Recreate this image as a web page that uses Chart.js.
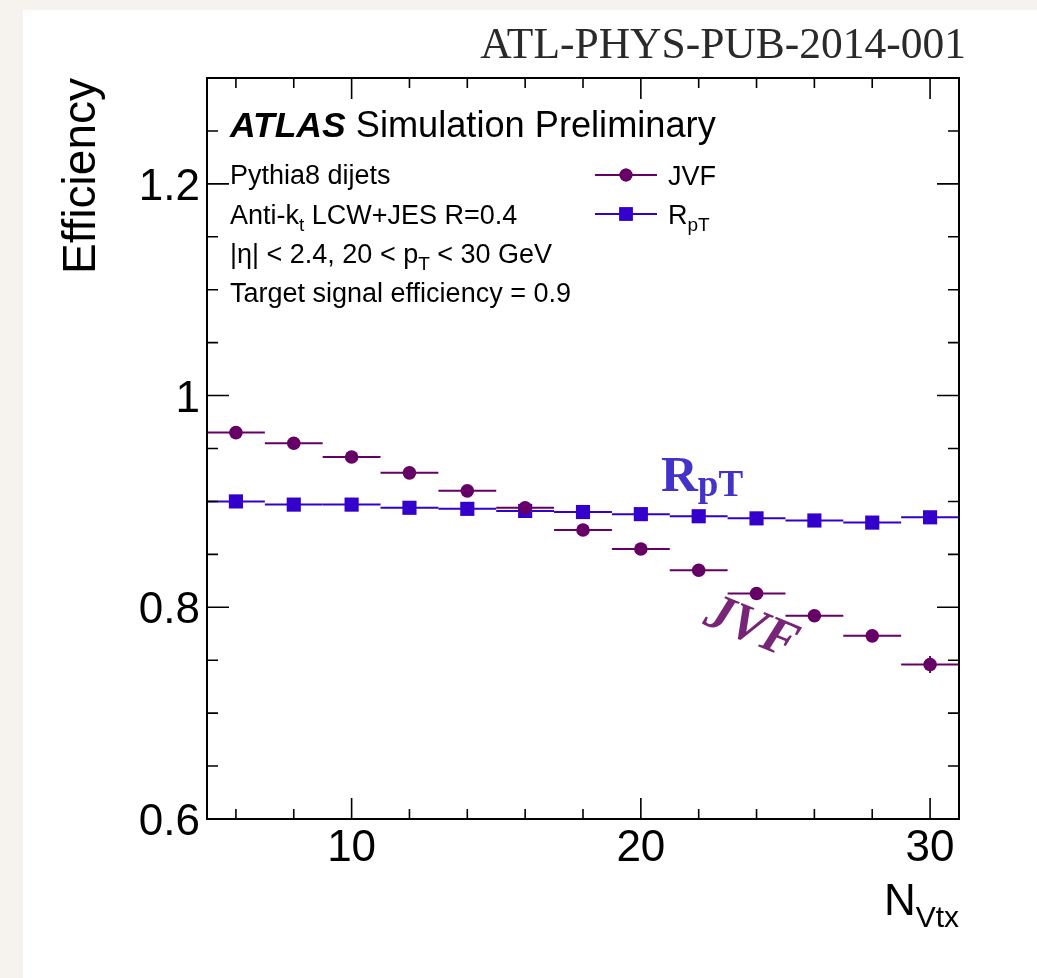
<!DOCTYPE html>
<html><head><meta charset="utf-8">
<script src="https://cdn.jsdelivr.net/npm/chart.js@4.4.1/dist/chart.umd.min.js"></script>
<style>
html,body{margin:0;padding:0;background:#f6f3ee;width:1037px;height:978px;overflow:hidden;}
#card{position:absolute;left:23px;top:10px;width:1014px;height:968px;background:#fff;}
#c{position:absolute;left:0;top:0;}
</style></head><body>
<div id="card"></div>
<canvas id="c" width="1037" height="978"></canvas>
<script>
// ---- data ----
const nVtx       = [6, 8, 10, 12, 14, 16, 18, 20, 22, 24, 26, 28, 30];
const binHalfW   = [1, 1, 1, 1, 1, 1, 1, 1, 1, 1, 1, 1, 1];
const jvfEff     = [0.965, 0.955, 0.942, 0.927, 0.910, 0.894, 0.873, 0.855, 0.835, 0.813, 0.792, 0.773, 0.746];
const jvfErr     = [0.002, 0.002, 0.002, 0.002, 0.002, 0.002, 0.002, 0.003, 0.003, 0.004, 0.004, 0.005, 0.008];
const rptEff     = [0.900, 0.897, 0.897, 0.894, 0.893, 0.891, 0.890, 0.888, 0.886, 0.884, 0.882, 0.880, 0.885];
const rptErr     = [0.001, 0.001, 0.001, 0.001, 0.001, 0.001, 0.001, 0.001, 0.001, 0.002, 0.002, 0.002, 0.003];
const xMajorTicks = [10, 20, 30];
const xMinorTicks = [6, 8, 12, 14, 16, 18, 22, 24, 26, 28];
const yMajorTicks = [0.6, 0.8, 1.0, 1.2];
const yMinorTicks = [0.65, 0.7, 0.75, 0.85, 0.9, 0.95, 1.05, 1.1, 1.15, 1.25];
const xRange = [5, 31];
const yRange = [0.6, 1.3];

const JVF_COL = '#660066';
const RPT_COL = '#3300cc';
const SANS = '"Liberation Sans", Arial, Helvetica, sans-serif';
const SERIF = '"Liberation Serif", "Times New Roman", serif';

function pts(xs, ys) { return xs.map((x, i) => ({x: x, y: ys[i]})); }

function drawRich(ctx, x, y, segs, align) {
  let total = 0;
  segs.forEach(s => { ctx.font = (s.style || '') + ' ' + s.size + 'px ' + (s.family || SANS); s.w = ctx.measureText(s.t).width; total += s.w; });
  let cx = align === 'right' ? x - total : x;
  ctx.textAlign = 'left';
  segs.forEach(s => {
    ctx.font = (s.style || '') + ' ' + s.size + 'px ' + (s.family || SANS);
    ctx.fillText(s.t, cx, y + (s.dy || 0));
    cx += s.w;
  });
}

const decor = {
  id: 'decor',
  beforeDatasetsDraw(chart) {
    const ctx = chart.ctx, xs = chart.scales.x, ys = chart.scales.y;
    const sets = [[jvfEff, jvfErr, JVF_COL], [rptEff, rptErr, RPT_COL]];
    ctx.save();
    ctx.lineWidth = 2;
    sets.forEach(([vals, errs, col]) => {
      ctx.strokeStyle = col;
      nVtx.forEach((x, i) => {
        const py = ys.getPixelForValue(vals[i]);
        const px = xs.getPixelForValue(x);
        ctx.beginPath();
        ctx.moveTo(xs.getPixelForValue(x - binHalfW[i]), py);
        ctx.lineTo(xs.getPixelForValue(x + binHalfW[i]), py);
        ctx.moveTo(px, ys.getPixelForValue(vals[i] - errs[i]));
        ctx.lineTo(px, ys.getPixelForValue(vals[i] + errs[i]));
        ctx.stroke();
      });
    });
    ctx.restore();
  },
  afterDraw(chart) {
    const ctx = chart.ctx, xs = chart.scales.x, ys = chart.scales.y, a = chart.chartArea;
    ctx.save();
    // frame
    ctx.strokeStyle = '#000';
    ctx.lineWidth = 2;
    ctx.strokeRect(a.left, a.top, a.right - a.left, a.bottom - a.top);
    // ticks
    ctx.lineWidth = 1.6;
    ctx.beginPath();
    const xt = (v, len) => {
      const p = xs.getPixelForValue(v);
      ctx.moveTo(p, a.bottom); ctx.lineTo(p, a.bottom - len);
      ctx.moveTo(p, a.top); ctx.lineTo(p, a.top + len);
    };
    const yt = (v, len) => {
      const p = ys.getPixelForValue(v);
      ctx.moveTo(a.left, p); ctx.lineTo(a.left + len, p);
      ctx.moveTo(a.right, p); ctx.lineTo(a.right - len, p);
    };
    xMajorTicks.forEach(v => xt(v, 21));
    xMinorTicks.forEach(v => xt(v, 10));
    yMajorTicks.forEach(v => yt(v, 22));
    yMinorTicks.forEach(v => yt(v, 11));
    ctx.stroke();

    ctx.fillStyle = '#000';
    ctx.textBaseline = 'alphabetic';
    // y title
    ctx.save();
    ctx.translate(95, a.top);
    ctx.rotate(-Math.PI / 2);
    ctx.font = '46px ' + SANS;
    ctx.textAlign = 'right';
    ctx.fillText('Efficiency', 0, 0);
    ctx.restore();
    // x title
    drawRich(ctx, a.right, 915, [{t: 'N', size: 44}, {t: 'Vtx', size: 30, dy: 12}], 'right');

    // ATLAS label
    drawRich(ctx, 230, 137, [{t: 'ATLAS', size: 35.5, style: 'italic bold'}, {t: ' Simulation Preliminary', size: 36.2}], 'left');
    // info text
    drawRich(ctx, 230, 184, [{t: 'Pythia8 dijets', size: 27}], 'left');
    drawRich(ctx, 230, 224, [{t: 'Anti-k', size: 27}, {t: 't', size: 19, dy: 7}, {t: ' LCW+JES R=0.4', size: 27}], 'left');
    drawRich(ctx, 230, 263, [{t: '|\u03B7| < 2.4, 20 < p', size: 27}, {t: 'T', size: 19, dy: 7}, {t: ' < 30 GeV', size: 27}], 'left');
    drawRich(ctx, 230, 302, [{t: 'Target signal efficiency = 0.9', size: 27}], 'left');

    // legend
    const legend = [[175, JVF_COL, 'circle', 6.5, [{t: 'JVF', size: 27}]],
                    [214, RPT_COL, 'rect', 9.5, [{t: 'R', size: 27}, {t: 'pT', size: 19, dy: 7}]]];
    legend.forEach(([y, col, style, r, label]) => {
      ctx.strokeStyle = col; ctx.fillStyle = col; ctx.lineWidth = 2;
      ctx.beginPath(); ctx.moveTo(595, y); ctx.lineTo(657, y); ctx.stroke();
      Chart.helpers.drawPoint(ctx, {pointStyle: style, radius: r, borderWidth: 0}, 626, y);
      ctx.fill();
      ctx.fillStyle = '#000';
      drawRich(ctx, 668, y + 10, label, 'left');
    });

    // curve annotations
    ctx.fillStyle = '#4433c9';
    drawRich(ctx, 661, 491, [{t: 'R', size: 51, style: 'bold', family: SERIF}, {t: 'pT', size: 37, style: 'bold', family: SERIF, dy: 5}], 'left');
    ctx.save();
    ctx.translate(751, 629);
    ctx.rotate(22 * Math.PI / 180);
    ctx.fillStyle = '#772577';
    ctx.font = 'italic bold 52px ' + SERIF;
    ctx.textAlign = 'center';
    ctx.textBaseline = 'middle';
    ctx.fillText('JVF', 0, 0);
    ctx.restore();

    // document id
    ctx.fillStyle = '#2a2a2a';
    ctx.font = '43.5px ' + SERIF;
    ctx.textAlign = 'right';
    ctx.fillText('ATL-PHYS-PUB-2014-001', 966, 58);
    ctx.restore();
  }
};

new Chart(document.getElementById('c'), {
  type: 'scatter',
  data: {
    datasets: [
      {label: 'JVF', data: pts(nVtx, jvfEff), pointStyle: 'circle', pointRadius: 6.8, pointHoverRadius: 6.8,
       backgroundColor: JVF_COL, borderColor: JVF_COL, borderWidth: 0, showLine: false},
      {label: 'RpT', data: pts(nVtx, rptEff), pointStyle: 'rect', pointRadius: 10, pointHoverRadius: 10,
       backgroundColor: RPT_COL, borderColor: RPT_COL, borderWidth: 0, showLine: false}
    ]
  },
  options: {
    responsive: false,
    animation: false,
    events: [],
    layout: {padding: {left: 0, top: 78, right: 78, bottom: 0}},
    plugins: {legend: {display: false}, tooltip: {enabled: false}, title: {display: false}},
    scales: {
      x: {
        type: 'linear', min: xRange[0], max: xRange[1],
        grid: {display: false, drawTicks: false},
        border: {display: false},
        afterBuildTicks: s => { s.ticks = xMajorTicks.map(v => ({value: v})); },
        afterFit: s => { s.height = 159; },
        ticks: {color: '#000', padding: 3, font: {size: 44, family: SANS}, maxRotation: 0,
                callback: v => String(v)}
      },
      y: {
        type: 'linear', min: yRange[0], max: yRange[1],
        grid: {display: false, drawTicks: false},
        border: {display: false},
        afterBuildTicks: s => { s.ticks = yMajorTicks.map(v => ({value: v})); },
        afterFit: s => { s.width = 207; },
        ticks: {color: '#000', padding: 7, labelOffset: 4, font: {size: 44, family: SANS},
                callback: v => (Math.abs(v - 1) < 1e-9 ? '1' : String(Math.round(v * 10) / 10))}
      }
    }
  },
  plugins: [decor]
});
</script>
</body></html>
